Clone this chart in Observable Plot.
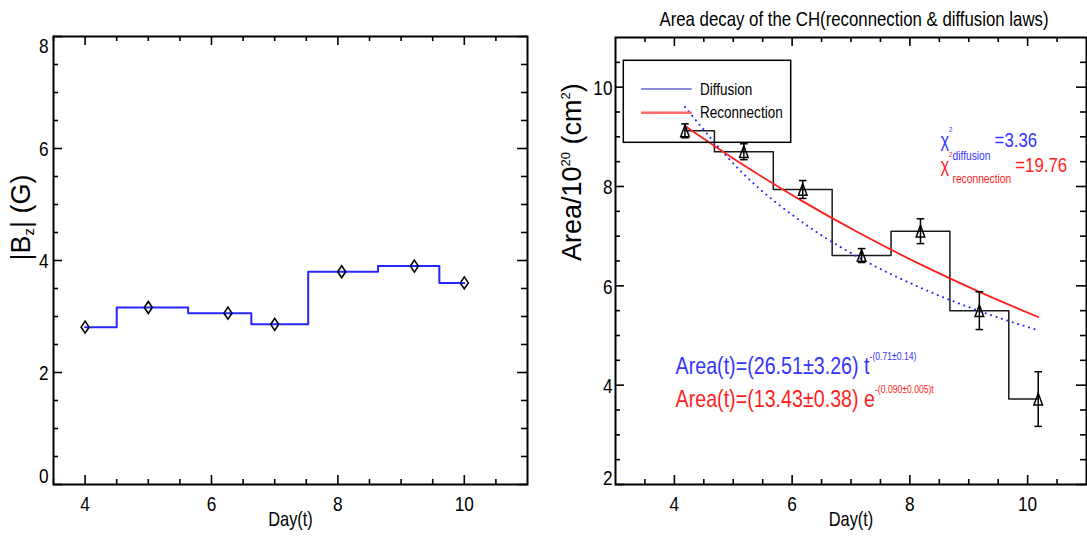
<!DOCTYPE html>
<html>
<head>
<meta charset="utf-8">
<script src="https://cdn.jsdelivr.net/npm/d3@7"></script>
<script src="https://cdn.jsdelivr.net/npm/@observablehq/plot@0.6"></script>
<style>
  html, body { margin: 0; padding: 0; background: #fff; }
  #wrap { position: relative; width: 1087px; height: 543px; overflow: hidden; }
  #wrap svg { position: absolute; top: 0; }
</style>
</head>
<body>
<div id="wrap"></div>
<script>
// ---- |Bz| per day ----
const bzDays = [4.0, 5.0, 6.26, 7.0, 8.06, 9.21, 10.0];
const bzValues = [2.81, 3.16, 3.06, 2.86, 3.80, 3.90, 3.60];

// ---- coronal-hole area (10^20 cm^2) per day, with 1-sigma errors ----
const areaDays = [4.18, 5.18, 6.18, 7.18, 8.18, 9.18, 10.18];
const areaValues = [9.12, 8.70, 7.94, 6.61, 7.10, 5.50, 3.72];
const areaErrors = [0.14, 0.16, 0.18, 0.14, 0.25, 0.38, 0.55];

// ---- fit results: [amplitude, amplitude error, exponent, exponent error] ----
const diffusionFit = [26.51, 3.26, 0.71, 0.14];      // A t^-n
const reconnectionFit = [13.43, 0.38, 0.090, 0.005]; // A e^-(k t)
const chiSquared = [3.36, 19.76];                    // diffusion, reconnection

// ---- axis ticks ----
const bzXMajor = [4, 6, 8, 10];
const bzXMinor = [3.5, 4.5, 5, 5.5, 6.5, 7, 7.5, 8.5, 9, 9.5, 10.5];
const bzYMajor = [0, 2, 4, 6, 8];
const bzYMinor = [0.5, 1, 1.5, 2.5, 3, 3.5, 4.5, 5, 5.5, 6.5, 7, 7.5];
const areaXMajor = [4, 6, 8, 10];
const areaXMinor = [3.5, 4.5, 5, 5.5, 6.5, 7, 7.5, 8.5, 9, 9.5, 10.5];
const areaYMajor = [2, 4, 6, 8, 10];
const areaYMinor = [2.5, 3, 3.5, 4.5, 5, 5.5, 6.5, 7, 7.5, 8.5, 9, 9.5, 10.5];

// ---- texts ----
const titleText = "Area decay of the CH(reconnection & diffusion laws)";
const xLabel = "Day(t)";
const legendLabels = ["Diffusion", "Reconnection"];

// ---- tables for the marks ----
const bzRows = bzDays.map((day, i) => ({day, value: bzValues[i]}));
const areaRows = areaDays.map((day, i) => ({day, value: areaValues[i], err: areaErrors[i]}));
// model curves evaluated from the fitted parameters at the observation days
const fitRows = areaDays.map(day => ({
  day,
  diffusion: diffusionFit[0] * Math.pow(day, -diffusionFit[2]),
  reconnection: reconnectionFit[0] * Math.exp(-reconnectionFit[2] * day)
}));

const font = '"Liberation Sans", Arial, sans-serif';
const NARROW = 0.82; // horizontal squeeze giving a narrow Helvetica look
const BLUE_LINE = "#2626ff", BLUE_TEXT = "#3434ff", RED = "#ff1e1e";

const f2 = v => v.toFixed(2);
const f3 = v => v.toFixed(3);

// rich text: [text, baseline shift (px), font size (px), extra dx]
const bzLabelParts = [["|B", 0, 27], ["z", 4, 15], ["| (G)", 0, 27]];
const areaLabelParts = [["Area/10", 0, 27], ["20", -11, 13], [" (cm", 0, 27], ["2", -11, 13], [")", 0, 27]];
const diffEqParts = [[`Area(t)=(${f2(diffusionFit[0])}±${f2(diffusionFit[1])}) t`, 0, 24],
                     [`-(${f2(diffusionFit[2])}±${f2(diffusionFit[3])})`, -14, 10.5]];
const recEqParts = [[`Area(t)=(${f2(reconnectionFit[0])}±${f2(reconnectionFit[1])}) e`, 0, 24],
                    [`-(${f3(reconnectionFit[2])}±${f3(reconnectionFit[3])})t`, -14, 10.5]];
const chiDiffParts = [["χ", 0, 20], ["2", -15, 7.5], ["diffusion", 13, 12.5], [`=${f2(chiSquared[0])}`, 0, 20.5, 5]];
const chiRecParts = [["χ", 0, 20], ["2", -15, 7.5], ["reconnection", 11, 12.5], [`=${f2(chiSquared[1])}`, 0, 20.5, 5]];
const plain = parts => parts.map(p => p[0]).join("");

function richify(svg, specs) {
  const byPlain = new Map(specs.map(s => [plain(s), s]));
  svg.querySelectorAll("text").forEach(el => {
    const spec = byPlain.get(el.textContent);
    if (!spec) return;
    el.textContent = "";
    let shift = 0;
    for (const [t, s, size, dx] of spec) {
      const ts = document.createElementNS("http://www.w3.org/2000/svg", "tspan");
      ts.textContent = t;
      if (s !== shift) ts.setAttribute("dy", s - shift);
      if (dx) ts.setAttribute("dx", dx);
      ts.setAttribute("font-size", size);
      el.appendChild(ts);
      shift = s;
    }
  });
}

// squeeze upright texts horizontally about their anchor
function narrowTexts(svg) {
  svg.querySelectorAll("text").forEach(el => {
    const t = el.getAttribute("transform") || "";
    if (t.includes("rotate")) return;
    el.setAttribute("transform", `${t} scale(${NARROW},1)`);
  });
}

// inward ticks on all four sides of the frame
function frameTicks(xMajor, xMinor, yMajor, yMinor, plotW, plotH) {
  const major = 9, minor = 5, sw = 1.6;
  return [
    Plot.ruleX(xMajor, {x: d => d, insetTop: plotH - major, strokeWidth: sw}),
    Plot.ruleX(xMajor, {x: d => d, insetBottom: plotH - major, strokeWidth: sw}),
    Plot.ruleX(xMinor, {x: d => d, insetTop: plotH - minor, strokeWidth: sw}),
    Plot.ruleX(xMinor, {x: d => d, insetBottom: plotH - minor, strokeWidth: sw}),
    Plot.ruleY(yMajor, {y: d => d, insetRight: plotW - major, strokeWidth: sw}),
    Plot.ruleY(yMajor, {y: d => d, insetLeft: plotW - major - 1, strokeWidth: sw}),
    Plot.ruleY(yMinor, {y: d => d, insetRight: plotW - minor, strokeWidth: sw}),
    Plot.ruleY(yMinor, {y: d => d, insetLeft: plotW - minor - 1, strokeWidth: sw})
  ];
}

const tallDiamond = {
  draw(ctx, size) {
    const r = Math.sqrt(size / Math.PI), h = r * 1.5;
    ctx.moveTo(0, -h); ctx.lineTo(r, 0); ctx.lineTo(0, h); ctx.lineTo(-r, 0); ctx.closePath();
  }
};
const tallTriangle = {
  draw(ctx, size) {
    const r = Math.sqrt(size / Math.PI), h = r * 1.35;
    ctx.moveTo(0, -h); ctx.lineTo(r, h); ctx.lineTo(-r, h); ctx.closePath();
  }
};
const capBar = {
  draw(ctx, size) {
    const r = Math.sqrt(size / Math.PI);
    ctx.moveTo(-r, 0); ctx.lineTo(r, 0);
  }
};

const wrap = document.getElementById("wrap");

// ================= left panel: |Bz| =================
{
  const width = 545, height = 543, mt = 36, mb = 59, ml = 53, mr = 18;
  const plotW = width - ml - mr, plotH = height - mt - mb;
  const yAxisOpts = {anchor: "left", tickSize: 0, tickPadding: 5, fontSize: 21, label: null, tickFormat: d => String(d)};
  const svg = Plot.plot({
    width, height, marginTop: mt, marginBottom: mb, marginLeft: ml, marginRight: mr,
    x: {domain: [3.5, 11]},
    y: {domain: [0, 8]},
    style: {fontFamily: font, color: "black", background: "transparent", overflow: "visible"},
    marks: [
      ...frameTicks(bzXMajor, bzXMinor, bzYMajor, bzYMinor, plotW, plotH),
      Plot.frame({stroke: "black", strokeWidth: 2}),
      Plot.axisX(bzXMajor, {anchor: "bottom", tickSize: 0, tickPadding: 12, fontSize: 21, label: null, tickFormat: d => String(d)}),
      Plot.axisY(bzYMajor.slice(1, -1), {...yAxisOpts, dy: 1}),
      Plot.axisY(bzYMajor.slice(-1), {...yAxisOpts, dy: 10}),
      Plot.axisY(bzYMajor.slice(0, 1), {...yAxisOpts, dy: -8}),
      Plot.line(bzRows, {x: "day", y: "value", curve: "step", stroke: BLUE_LINE, strokeWidth: 2}),
      Plot.dot(bzRows, {x: "day", y: "value", symbol: tallDiamond, r: 4, stroke: "black", strokeWidth: 1.6, fill: "none"}),
      Plot.text([xLabel], {text: d => d, frameAnchor: "bottom", dy: 41, fontSize: 20}),
      Plot.text([plain(bzLabelParts)], {text: d => d, frameAnchor: "left", dx: -32.5, rotate: -90, fontSize: 27})
    ]
  });
  svg.style.left = "0px";
  richify(svg, [bzLabelParts]);
  narrowTexts(svg);
  wrap.appendChild(svg);
}

// ================= right panel: area decay =================
{
  const width = 527, height = 543, mt = 37, mb = 59, ml = 55, mr = 1;
  const plotW = width - ml - mr, plotH = height - mt - mb;
  const yAxisOpts = {anchor: "left", tickSize: 0, tickPadding: 3, fontSize: 21, label: null, tickFormat: d => String(d)};
  const svg = Plot.plot({
    width, height, marginTop: mt, marginBottom: mb, marginLeft: ml, marginRight: mr,
    x: {domain: [3, 11]},
    y: {domain: [2, 11]},
    style: {fontFamily: font, color: "black", background: "transparent", overflow: "visible"},
    marks: [
      ...frameTicks(areaXMajor, areaXMinor, areaYMajor, areaYMinor, plotW, plotH),
      Plot.frame({stroke: "black", strokeWidth: 2}),
      Plot.axisX(areaXMajor, {anchor: "bottom", tickSize: 0, tickPadding: 12, fontSize: 21, label: null, tickFormat: d => String(d)}),
      Plot.axisY(areaYMajor.slice(1), {...yAxisOpts, dy: 1}),
      Plot.axisY(areaYMajor.slice(0, 1), {...yAxisOpts, dy: -6.5}),
      // observed area as a histogram-style step line
      Plot.line(areaRows, {x: "day", y: "value", curve: "step", stroke: "#1a1a1a", strokeWidth: 1.5}),
      // fitted laws
      Plot.line(fitRows, {x: "day", y: "diffusion", curve: "monotone-x", stroke: BLUE_LINE, strokeWidth: 2, strokeDasharray: "0.1 5.6", strokeLinecap: "round"}),
      Plot.line(fitRows, {x: "day", y: "reconnection", curve: "monotone-x", stroke: RED, strokeWidth: 1.8}),
      // error bars and markers
      Plot.ruleX(areaRows, {x: "day", y1: d => d.value - d.err, y2: d => d.value + d.err, stroke: "black", strokeWidth: 1.5}),
      Plot.dot(areaRows, {x: "day", y: d => d.value + d.err, symbol: capBar, r: 3.8, stroke: "black", strokeWidth: 1.5}),
      Plot.dot(areaRows, {x: "day", y: d => d.value - d.err, symbol: capBar, r: 3.8, stroke: "black", strokeWidth: 1.5}),
      Plot.dot(areaRows, {x: "day", y: "value", symbol: tallTriangle, r: 4.3, stroke: "black", strokeWidth: 1.5, fill: "none"}),
      // annotations
      Plot.text([plain(diffEqParts)], {text: d => d, x: 4.02, y: 4.23, textAnchor: "start", lineAnchor: "bottom", fill: BLUE_TEXT, fontSize: 24}),
      Plot.text([plain(recEqParts)], {text: d => d, x: 4.02, y: 3.56, textAnchor: "start", lineAnchor: "bottom", fill: RED, fontSize: 24}),
      Plot.text([plain(chiDiffParts)], {text: d => d, x: 8.52, y: 8.79, textAnchor: "start", lineAnchor: "bottom", fill: BLUE_TEXT, fontSize: 20}),
      Plot.text([plain(chiRecParts)], {text: d => d, x: 8.52, y: 8.29, textAnchor: "start", lineAnchor: "bottom", fill: RED, fontSize: 20}),
      // titles
      Plot.text([titleText], {text: d => d, frameAnchor: "top", dx: 3, dy: -12, lineAnchor: "bottom", fontSize: 20.5}),
      Plot.text([xLabel], {text: d => d, frameAnchor: "bottom", dy: 41, fontSize: 20}),
      Plot.text([plain(areaLabelParts)], {text: d => d, frameAnchor: "left", dx: -43, rotate: -90, fontSize: 27})
    ]
  });
  svg.style.left = "560px";
  richify(svg, [areaLabelParts, diffEqParts, recEqParts, chiDiffParts, chiRecParts]);

  // legend box in the upper-left corner of the frame
  const legend = d3.select(svg).append("g")
    .attr("font-family", font).attr("font-size", 16.5).attr("text-anchor", "start");
  legend.append("rect")
    .attr("x", ml + 8.3).attr("y", mt + 23.3).attr("width", 167.4).attr("height", 82)
    .attr("fill", "none").attr("stroke", "black").attr("stroke-width", 1.5);
  const legendStyles = [{stroke: "#1a1ab0", width: 1.2}, {stroke: "#ff6a6a", width: 2.6}];
  legendLabels.forEach((label, i) => {
    const cy = mt + 52 + i * 23.7;
    legend.append("line")
      .attr("x1", ml + 26).attr("x2", ml + 76.7).attr("y1", cy).attr("y2", cy)
      .attr("stroke", legendStyles[i].stroke).attr("stroke-width", legendStyles[i].width);
    legend.append("text")
      .attr("transform", `translate(${ml + 85},${cy})`).attr("dy", "0.35em").attr("fill", "black").text(label);
  });
  narrowTexts(svg);
  wrap.appendChild(svg);
}
</script>
</body>
</html>
